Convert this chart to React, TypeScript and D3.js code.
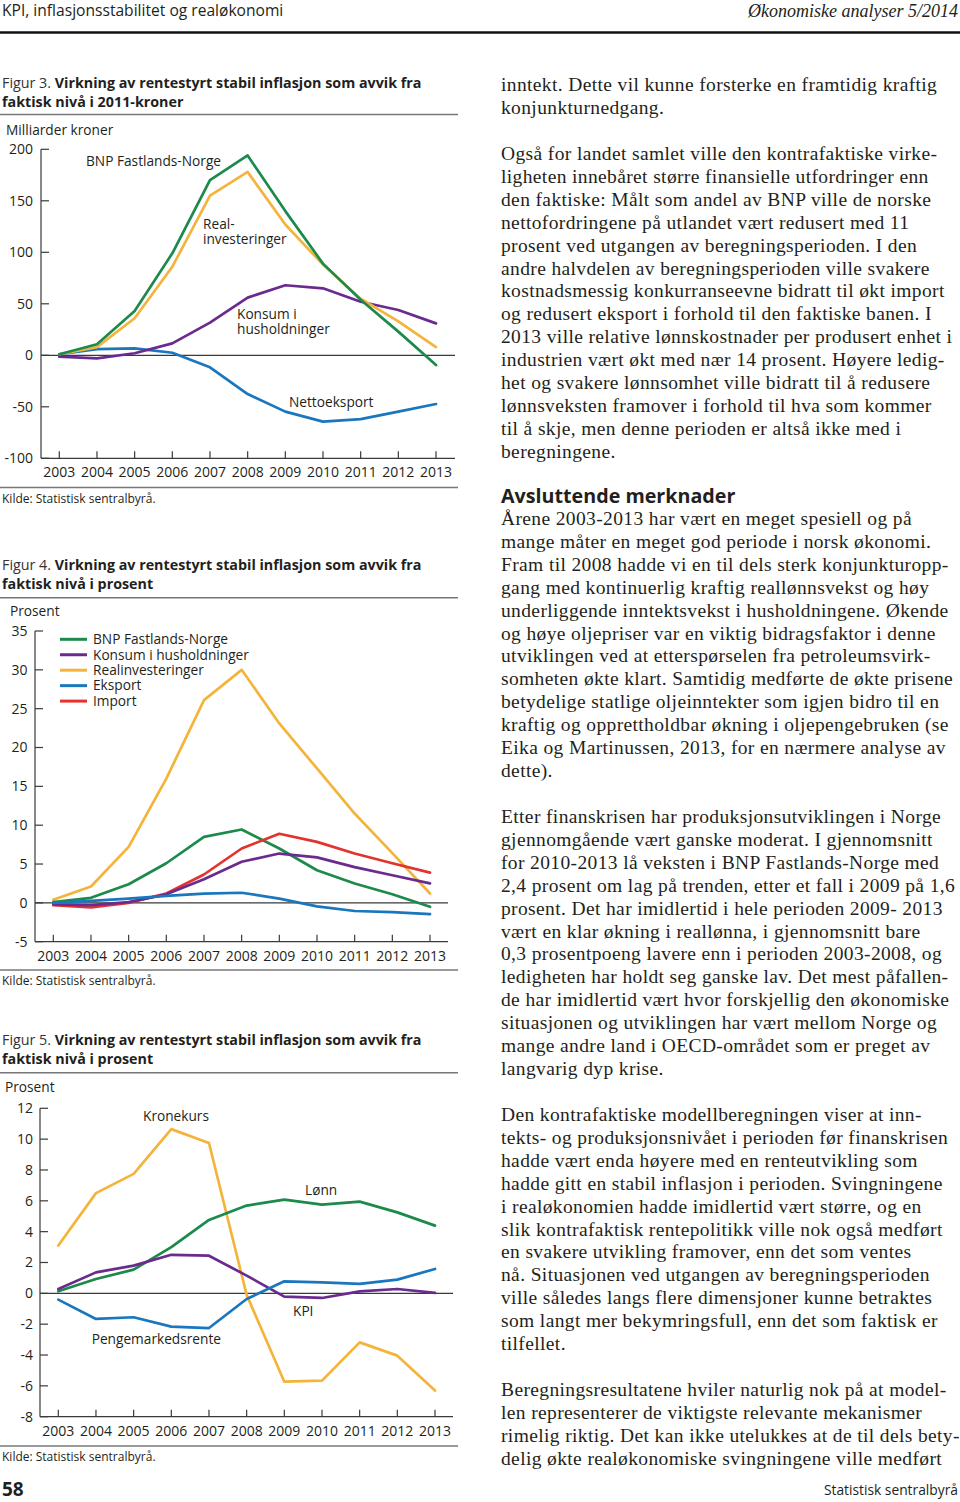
import React from "react";
import * as d3 from "d3";

const years = [2003, 2004, 2005, 2006, 2007, 2008, 2009, 2010, 2011, 2012, 2013];

// Figur 3 (milliarder kroner)
const f3Bnp = [1, 10.7, 43, 99, 170, 194, 140, 89, 54, 23, -9.4];
const f3Real = [1, 8, 36, 86, 155, 178, 127, 88, 55, 33, 8];
const f3Konsum = [-1.3, -3, 2, 11.6, 31.7, 56, 68, 65, 52, 44, 31];
const f3Netto = [1, 6, 6.8, 2.5, -11.7, -37.6, -54.7, -64.4, -62, -54.7, -47.3];
const f3Ticks = [-100, -50, 0, 50, 100, 150, 200];

// Figur 4 (prosent)
const f4Bnp = [0.1, 0.65, 2.4, 5.1, 8.5, 9.45, 7.0, 4.2, 2.5, 1.1, -0.5];
const f4Konsum = [-0.2, -0.3, 0.1, 1.1, 3.05, 5.3, 6.35, 5.85, 4.6, 3.55, 2.5];
const f4Real = [0.4, 2.1, 7.2, 16, 26.1, 30, 23.1, 17.3, 11.5, 6.4, 1.2];
const f4Eksport = [0, 0.25, 0.55, 0.9, 1.2, 1.3, 0.55, -0.45, -1.05, -1.2, -1.45];
const f4Import = [-0.3, -0.6, 0, 1.2, 3.65, 7.0, 8.9, 7.85, 6.35, 5.1, 3.9];
const f4Ticks = [-5, 0, 5, 10, 15, 20, 25, 30, 35];
const f4Legend = ["BNP Fastlands-Norge", "Konsum i husholdninger", "Realinvesteringer", "Eksport", "Import"];

// Figur 5 (prosent)
const f5Kronekurs = [3.1, 6.5, 7.75, 10.65, 9.75, -0.1, -5.73, -5.66, -3.18, -4.04, -6.3];
const f5Lonn = [0.13, 0.93, 1.54, 3.0, 4.76, 5.69, 6.08, 5.75, 5.95, 5.25, 4.39];
const f5Kpi = [0.28, 1.36, 1.8, 2.5, 2.44, 1.15, -0.21, -0.3, 0.13, 0.28, 0.03];
const f5Rente = [-0.41, -1.66, -1.55, -2.16, -2.25, -0.37, 0.78, 0.71, 0.61, 0.89, 1.58];
const f5Ticks = [-8, -6, -4, -2, 0, 2, 4, 6, 8, 10, 12];

const GREEN = "#1b8a4b";
const PURPLE = "#6b2b8e";
const ORANGE = "#f4b43c";
const BLUE = "#1a77bd";
const RED = "#e2332f";
const AXIS = "#3a3a3a";
const TXT = "#231f20";
const SANS = "'Open Sans', 'Noto Sans', sans-serif";
const SERIF = "'Liberation Serif', 'DejaVu Serif', serif";

type Series = { values: number[]; color: string };

type ChartProps = {
  axisX: number;
  rightX: number;
  xRange: [number, number];
  yDomain: [number, number];
  yRange: [number, number];
  ticks: number[];
  labelRight: number;
  yearY: number;
  series: Series[];
};

function Chart(p: ChartProps) {
  const x = d3.scaleLinear().domain([2003, 2013]).range(p.xRange);
  const y = d3.scaleLinear().domain(p.yDomain).range(p.yRange);
  const line = d3
    .line<number>()
    .x((_, i) => x(years[i]))
    .y((d) => y(d))
    .curve(d3.curveLinear);
  const yBottom = y(p.yDomain[0]);
  const yTop = y(p.yDomain[1]);
  return (
    <g>
      <line x1={p.axisX} x2={p.axisX} y1={yTop} y2={yBottom} stroke={AXIS} strokeWidth={1.2} />
      <line x1={p.axisX} x2={p.rightX} y1={yBottom} y2={yBottom} stroke={AXIS} strokeWidth={1.2} />
      {p.ticks.map((t) => (
        <g key={t}>
          <line x1={p.axisX} x2={p.axisX + 8} y1={y(t)} y2={y(t)} stroke={AXIS} strokeWidth={1.2} />
          <text
            x={p.labelRight}
            y={y(t)}
            dy="0.35em"
            textAnchor="end"
            fontFamily={SANS}
            fontSize={14}
            fill={TXT}
          >
            {t}
          </text>
        </g>
      ))}
      <line x1={p.axisX} x2={p.rightX} y1={y(0)} y2={y(0)} stroke={AXIS} strokeWidth={1.2} />
      {years.map((yr) => (
        <g key={yr}>
          <line x1={x(yr)} x2={x(yr)} y1={yBottom} y2={yBottom - 7} stroke={AXIS} strokeWidth={1.2} />
          <text
            x={x(yr)}
            y={p.yearY}
            dy="0.35em"
            textAnchor="middle"
            fontFamily={SANS}
            fontSize={14}
            fill={TXT}
          >
            {yr}
          </text>
        </g>
      ))}
      {p.series.map((s, i) => (
        <path
          key={i}
          d={line(s.values) || ""}
          fill="none"
          stroke={s.color}
          strokeWidth={2.7}
          strokeLinejoin="round"
          strokeLinecap="round"
        />
      ))}
    </g>
  );
}

function Title({ y1, num, line1, line2 }: { y1: number; num: string; line1: string; line2: string }) {
  return (
    <g fontFamily={SANS} fontSize={14.3} fill={TXT}>
      <text x={2} y={y1} dy="0.35em">
        <tspan fontWeight={400} fill="#333">{`Figur ${num}. `}</tspan>
        <tspan fontWeight={700}>{line1}</tspan>
      </text>
      <text x={2} y={y1 + 19} dy="0.35em" fontWeight={700}>
        {line2}
      </text>
    </g>
  );
}

function Lbl({ x, y, t, size = 13.7 }: { x: number; y: number; t: string; size?: number }) {
  return (
    <text x={x} y={y} dy="0.35em" fontFamily={SANS} fontSize={size} fill={TXT}>
      {t}
    </text>
  );
}

const para1 = [
  "inntekt. Dette vil kunne forsterke en framtidig kraftig",
  "konjunkturnedgang.",
];
const para2 = [
  "Også for landet samlet ville den kontrafaktiske virke-",
  "ligheten innebåret større finansielle utfordringer enn",
  "den faktiske: Målt som andel av BNP ville de norske",
  "nettofordringene på utlandet vært redusert med 11",
  "prosent ved utgangen av beregningsperioden. I den",
  "andre halvdelen av beregningsperioden ville svakere",
  "kostnadsmessig konkurranseevne bidratt til økt import",
  "og redusert eksport i forhold til den faktiske banen. I",
  "2013 ville relative lønnskostnader per produsert enhet i",
  "industrien vært økt med nær 14 prosent. Høyere ledig-",
  "het og svakere lønnsomhet ville bidratt til å redusere",
  "lønnsveksten framover i forhold til hva som kommer",
  "til å skje, men denne perioden er altså ikke med i",
  "beregningene.",
];
const para3 = [
  "Årene 2003-2013 har vært en meget spesiell og på",
  "mange måter en meget god periode i norsk økonomi.",
  "Fram til 2008 hadde vi en til dels sterk konjunkturopp-",
  "gang med kontinuerlig kraftig reallønnsvekst og høy",
  "underliggende inntektsvekst i husholdningene. Økende",
  "og høye oljepriser var en viktig bidragsfaktor i denne",
  "utviklingen ved at etterspørselen fra petroleumsvirk-",
  "somheten økte klart. Samtidig medførte de økte prisene",
  "betydelige statlige oljeinntekter som igjen bidro til en",
  "kraftig og opprettholdbar økning i oljepengebruken (se",
  "Eika og Martinussen, 2013, for en nærmere analyse av",
  "dette).",
];
const para4 = [
  "Etter finanskrisen har produksjonsutviklingen i Norge",
  "gjennomgående vært ganske moderat. I gjennomsnitt",
  "for 2010-2013 lå veksten i BNP Fastlands-Norge med",
  "2,4 prosent om lag på trenden, etter et fall i 2009 på 1,6",
  "prosent. Det har imidlertid i hele perioden 2009- 2013",
  "vært en klar økning i reallønna, i gjennomsnitt bare",
  "0,3 prosentpoeng lavere enn i perioden 2003-2008, og",
  "ledigheten har holdt seg ganske lav. Det mest påfallen-",
  "de har imidlertid vært hvor forskjellig den økonomiske",
  "situasjonen og utviklingen har vært mellom Norge og",
  "mange andre land i OECD-området som er preget av",
  "langvarig dyp krise.",
];
const para5 = [
  "Den kontrafaktiske modellberegningen viser at inn-",
  "tekts- og produksjonsnivået i perioden før finanskrisen",
  "hadde vært enda høyere med en renteutvikling som",
  "hadde gitt en stabil inflasjon i perioden. Svingningene",
  "i realøkonomien hadde imidlertid vært større, og en",
  "slik kontrafaktisk rentepolitikk ville nok også medført",
  "en svakere utvikling framover, enn det som ventes",
  "nå. Situasjonen ved utgangen av beregningsperioden",
  "ville således langs flere dimensjoner kunne betraktes",
  "som langt mer bekymringsfull, enn det som faktisk er",
  "tilfellet.",
];
const para6 = [
  "Beregningsresultatene hviler naturlig nok på at model-",
  "len representerer de viktigste relevante mekanismer",
  "rimelig riktig. Det kan ikke utelukkes at de til dels bety-",
  "delig økte realøkonomiske svingningene ville medført",
];

function Para({ lines, y0 }: { lines: string[]; y0: number }) {
  return (
    <g fontFamily={SERIF} fontSize={19.5} letterSpacing={0.37} fill={TXT}>
      {lines.map((l, i) => (
        <text key={i} x={501} y={y0 + i * 22.9}>
          {l}
        </text>
      ))}
    </g>
  );
}

export default function App() {
  return (
    <svg
      width={960}
      height={1502}
      viewBox="0 0 960 1502"
      style={{ position: "absolute", left: 0, top: 0, background: "#fff" }}
    >
      <rect width={960} height={1502} fill="#fff" />
      {/* Header */}
      <text x={2} y={11} dy="0.35em" fontFamily={SANS} fontSize={15.6} fill={TXT}>
        KPI, inflasjonsstabilitet og realøkonomi
      </text>
      <text
        x={958}
        y={11}
        dy="0.35em"
        textAnchor="end"
        fontFamily={SERIF}
        fontStyle="italic"
        fontSize={18}
        fill={TXT}
      >
        Økonomiske analyser 5/2014
      </text>
      <line x1={0} x2={960} y1={32.5} y2={32.5} stroke="#111" strokeWidth={2.6} />

      {/* Figur 3 */}
      <Title y1={82.5} num="3" line1="Virkning av rentestyrt stabil inflasjon som avvik fra" line2="faktisk nivå i 2011-kroner" />
      <line x1={0} x2={458} y1={114.5} y2={114.5} stroke="#777" strokeWidth={1.5} />
      <Lbl x={6} y={130} t="Milliarder kroner" />
      <Chart
        axisX={41}
        rightX={455}
        xRange={[59.3, 436]}
        yDomain={[-100, 200]}
        yRange={[458.3, 149.3]}
        ticks={f3Ticks}
        labelRight={33}
        yearY={471.7}
        series={[
          { values: f3Netto, color: BLUE },
          { values: f3Konsum, color: PURPLE },
          { values: f3Real, color: ORANGE },
          { values: f3Bnp, color: GREEN },
        ]}
      />
      <Lbl x={86} y={161} t="BNP Fastlands-Norge" />
      <Lbl x={203} y={224} t="Real-" />
      <Lbl x={203} y={239} t="investeringer" />
      <Lbl x={237} y={314} t="Konsum i" />
      <Lbl x={237} y={329} t="husholdninger" />
      <Lbl x={289} y={402} t="Nettoeksport" />
      <line x1={0} x2={458} y1={487.5} y2={487.5} stroke="#777" strokeWidth={1.5} />
      <Lbl x={2} y={498.5} t="Kilde: Statistisk sentralbyrå." size={12} />

      {/* Figur 4 */}
      <Title y1={565} num="4" line1="Virkning av rentestyrt stabil inflasjon som avvik fra" line2="faktisk nivå i prosent" />
      <line x1={0} x2={458} y1={597.7} y2={597.7} stroke="#777" strokeWidth={1.5} />
      <Lbl x={10} y={611.7} t="Prosent" />
      <Chart
        axisX={35}
        rightX={448}
        xRange={[53.3, 430]}
        yDomain={[-5, 35]}
        yRange={[941.7, 631]}
        ticks={f4Ticks}
        labelRight={27.5}
        yearY={956}
        series={[
          { values: f4Real, color: ORANGE },
          { values: f4Bnp, color: GREEN },
          { values: f4Import, color: RED },
          { values: f4Konsum, color: PURPLE },
          { values: f4Eksport, color: BLUE },
        ]}
      />
      {f4Legend.map((name, i) => {
        const col = [GREEN, PURPLE, ORANGE, BLUE, RED][i];
        const yy = 639.3 + i * 15.45;
        return (
          <g key={name}>
            <line x1={60} x2={87} y1={yy} y2={yy} stroke={col} strokeWidth={3} />
            <Lbl x={93} y={yy} t={name} />
          </g>
        );
      })}
      <line x1={0} x2={458} y1={970} y2={970} stroke="#777" strokeWidth={1.5} />
      <Lbl x={2} y={980.7} t="Kilde: Statistisk sentralbyrå." size={12} />

      {/* Figur 5 */}
      <Title y1={1040} num="5" line1="Virkning av rentestyrt stabil inflasjon som avvik fra" line2="faktisk nivå i prosent" />
      <line x1={0} x2={458} y1={1072.7} y2={1072.7} stroke="#777" strokeWidth={1.5} />
      <Lbl x={5} y={1087.3} t="Prosent" />
      <Chart
        axisX={40}
        rightX={453}
        xRange={[58.3, 435]}
        yDomain={[-8, 12]}
        yRange={[1416.7, 1108.3]}
        ticks={f5Ticks}
        labelRight={33}
        yearY={1431}
        series={[
          { values: f5Kronekurs, color: ORANGE },
          { values: f5Lonn, color: GREEN },
          { values: f5Kpi, color: PURPLE },
          { values: f5Rente, color: BLUE },
        ]}
      />
      <Lbl x={143} y={1116.7} t="Kronekurs" />
      <Lbl x={305} y={1190.7} t="Lønn" />
      <Lbl x={293} y={1311} t="KPI" />
      <Lbl x={91.7} y={1339} t="Pengemarkedsrente" />
      <line x1={0} x2={458} y1={1446} y2={1446} stroke="#777" strokeWidth={1.5} />
      <Lbl x={2} y={1456.7} t="Kilde: Statistisk sentralbyrå." size={12} />

      <text x={2} y={1489} dy="0.35em" fontFamily={SANS} fontWeight={700} fontSize={19} fill={TXT}>
        58
      </text>

      {/* Right column text */}
      <Para lines={para1} y0={91} />
      <Para lines={para2} y0={160} />
      <text x={501} y={503} fontFamily={SANS} fontWeight={700} fontSize={19.7} fill={TXT}>
        Avsluttende merknader
      </text>
      <Para lines={para3} y0={525} />
      <Para lines={para4} y0={823} />
      <Para lines={para5} y0={1121} />
      <Para lines={para6} y0={1396} />
      <text x={958} y={1490} dy="0.35em" textAnchor="end" fontFamily={SANS} fontSize={13.8} fill={TXT}>
        Statistisk sentralbyrå
      </text>
    </svg>
  );
}
